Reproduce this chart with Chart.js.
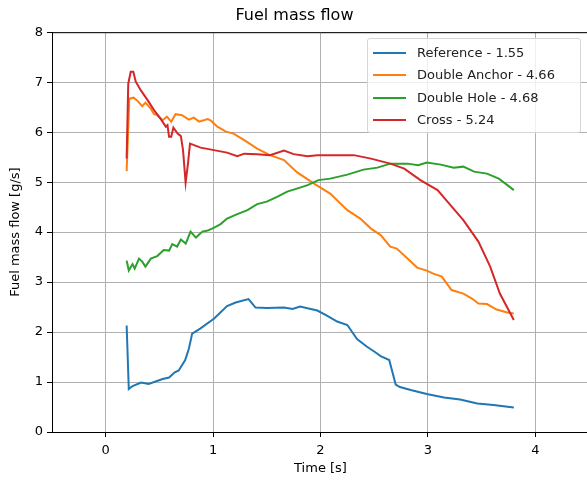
<!DOCTYPE html>
<html>
<head>
<meta charset="utf-8">
<script src="https://cdn.jsdelivr.net/npm/chart.js@4"></script>
<style>
  html, body { margin: 0; padding: 0; background: #fff; overflow: hidden; }
  #wrap { position: relative; width: 587px; height: 481px; overflow: hidden; }
  #legend {
    position: absolute; left: 367px; top: 38px; width: 212px; height: 93px;
    background: rgba(255, 255, 255, 0.8); border: 1px solid #d6d6d6; border-radius: 3px;
    font-family: "DejaVu Sans", sans-serif; font-size: 13px; color: #222;
  }
  .entry { position: absolute; left: 5px; height: 20px; line-height: 20px; white-space: nowrap; }
  .swatch { position: absolute; left: 0; top: 9px; width: 33px; height: 2px; }
  .entry span.txt { position: absolute; left: 44px; top: 0; }
</style>
</head>
<body>
<div id="wrap">
  <canvas id="flowChart" width="600" height="481"></canvas>
  <div id="legend"></div>
</div>
<script>
// series labels and colours
const seriesNames = ['Reference - 1.55', 'Double Anchor - 4.66', 'Double Hole - 4.68', 'Cross - 5.24'];
const seriesColors = ['#1f77b4', '#ff7f0e', '#2ca02c', '#d62728'];

// axis ticks
const xTicks = [0, 1, 2, 3, 4];
const yTicks = [0, 1, 2, 3, 4, 5, 6, 7, 8];

// Reference
const refTime = [0.195, 0.215, 0.25, 0.33, 0.40, 0.53, 0.59, 0.64, 0.68, 0.74, 0.775, 0.805, 0.88, 1.01, 1.13, 1.21, 1.33, 1.395, 1.50, 1.66, 1.74, 1.81, 1.97, 2.06, 2.155, 2.25, 2.34, 2.43, 2.50, 2.56, 2.64, 2.70, 2.74, 2.84, 2.99, 3.15, 3.30, 3.46, 3.61, 3.80];
const refFlow = [2.13, 0.86, 0.92, 0.99, 0.96, 1.06, 1.09, 1.19, 1.23, 1.44, 1.67, 1.97, 2.07, 2.27, 2.52, 2.59, 2.66, 2.49, 2.48, 2.49, 2.46, 2.51, 2.43, 2.33, 2.21, 2.14, 1.86, 1.71, 1.61, 1.52, 1.44, 0.95, 0.90, 0.84, 0.76, 0.69, 0.65, 0.57, 0.54, 0.49];

// Double Anchor
const anchorTime = [0.195, 0.22, 0.26, 0.29, 0.34, 0.37, 0.42, 0.45, 0.48, 0.53, 0.57, 0.61, 0.65, 0.71, 0.775, 0.82, 0.87, 0.95, 0.98, 1.04, 1.12, 1.19, 1.29, 1.41, 1.53, 1.66, 1.78, 1.94, 2.09, 2.25, 2.37, 2.47, 2.56, 2.65, 2.71, 2.81, 2.90, 2.99, 3.05, 3.13, 3.22, 3.33, 3.41, 3.47, 3.55, 3.64, 3.74, 3.80];
const anchorFlow = [5.22, 6.67, 6.69, 6.64, 6.52, 6.59, 6.47, 6.36, 6.34, 6.24, 6.31, 6.21, 6.36, 6.34, 6.25, 6.29, 6.21, 6.26, 6.23, 6.11, 6.01, 5.97, 5.84, 5.67, 5.54, 5.44, 5.20, 4.97, 4.77, 4.44, 4.27, 4.07, 3.94, 3.71, 3.67, 3.47, 3.29, 3.23, 3.17, 3.11, 2.84, 2.77, 2.67, 2.57, 2.56, 2.45, 2.39, 2.37];

// Double Hole
const holeTime = [0.195, 0.215, 0.25, 0.27, 0.31, 0.34, 0.37, 0.42, 0.48, 0.54, 0.59, 0.62, 0.665, 0.70, 0.745, 0.79, 0.84, 0.90, 0.95, 1.01, 1.07, 1.13, 1.225, 1.32, 1.41, 1.50, 1.60, 1.69, 1.78, 1.88, 1.98, 2.09, 2.19, 2.25, 2.40, 2.53, 2.65, 2.81, 2.91, 2.99, 3.12, 3.24, 3.33, 3.43, 3.55, 3.66, 3.74, 3.80];
const holeFlow = [3.43, 3.23, 3.36, 3.27, 3.47, 3.41, 3.31, 3.47, 3.52, 3.64, 3.63, 3.76, 3.71, 3.85, 3.77, 4.01, 3.89, 4.01, 4.03, 4.09, 4.16, 4.27, 4.36, 4.44, 4.56, 4.61, 4.71, 4.81, 4.87, 4.94, 5.04, 5.07, 5.12, 5.15, 5.25, 5.29, 5.37, 5.37, 5.34, 5.39, 5.35, 5.29, 5.31, 5.21, 5.17, 5.07, 4.94, 4.84];

// Cross
const crossTime = [0.195, 0.21, 0.233, 0.257, 0.28, 0.326, 0.39, 0.45, 0.51, 0.56, 0.575, 0.59, 0.61, 0.63, 0.67, 0.70, 0.72, 0.744, 0.766, 0.785, 0.884, 1.007, 1.13, 1.225, 1.29, 1.41, 1.53, 1.66, 1.75, 1.88, 1.97, 2.09, 2.31, 2.47, 2.65, 2.78, 2.93, 3.09, 3.21, 3.33, 3.47, 3.58, 3.67, 3.80];
const crossFlow = [5.47, 6.97, 7.21, 7.21, 7.01, 6.84, 6.64, 6.44, 6.27, 6.11, 6.14, 5.91, 5.91, 6.09, 5.97, 5.92, 5.64, 4.99, 5.37, 5.77, 5.69, 5.64, 5.59, 5.52, 5.57, 5.56, 5.54, 5.63, 5.56, 5.52, 5.54, 5.54, 5.54, 5.47, 5.37, 5.27, 5.04, 4.84, 4.54, 4.24, 3.81, 3.31, 2.77, 2.24];

const seriesTime = [refTime, anchorTime, holeTime, crossTime];
const seriesFlow = [refFlow, anchorFlow, holeFlow, crossFlow];

const FONT = '"DejaVu Sans", sans-serif';

// top spine (right spine is off screen in the reference)
const frame = {
  id: 'frame',
  afterDraw(chart) {
    const { ctx, chartArea } = chart;
    ctx.save();
    ctx.strokeStyle = '#000';
    ctx.lineWidth = 1;
    ctx.beginPath();
    ctx.moveTo(chartArea.left, chartArea.top + 0.5);
    ctx.lineTo(chartArea.right, chartArea.top + 0.5);
    ctx.stroke();
    ctx.restore();
  }
};

const datasets = seriesNames.map((name, i) => ({
  label: name,
  data: seriesTime[i].map((t, k) => ({ x: t, y: seriesFlow[i][k] })),
  borderColor: seriesColors[i],
  backgroundColor: seriesColors[i],
  borderWidth: 2,
  pointRadius: 0,
  tension: 0,
  order: seriesNames.length - i
}));

new Chart(document.getElementById('flowChart'), {
  type: 'line',
  data: { datasets },
  options: {
    responsive: false,
    animation: false,
    layout: { padding: { left: 0, right: 11, top: 0, bottom: 0 } },
    plugins: {
      legend: { display: false },
      tooltip: { enabled: false },
      title: {
        display: true,
        text: 'Fuel mass flow',
        color: '#000',
        font: { family: FONT, size: 16, weight: 'normal', lineHeight: 1.2 },
        padding: { top: 6, bottom: 7 }
      }
    },
    scales: {
      x: {
        type: 'linear',
        min: -0.5,
        max: 4.5,
        afterBuildTicks: axis => { axis.ticks = xTicks.map(v => ({ value: v })); },
        afterFit: scale => { scale.height = 49; },
        ticks: { color: '#000', font: { family: FONT, size: 13 }, padding: 6 },
        grid: { color: '#b0b0b0', lineWidth: 1, tickColor: '#000', tickLength: 5 },
        border: { display: true, color: '#000', width: 1 },
        title: {
          display: true, text: 'Time [s]', color: '#000',
          font: { family: FONT, size: 13 }, padding: { top: 0, bottom: 5 }
        }
      },
      y: {
        min: 0,
        max: 8,
        afterBuildTicks: axis => { axis.ticks = yTicks.map(v => ({ value: v })); },
        afterFit: scale => { scale.width = 52; },
        ticks: { color: '#000', font: { family: FONT, size: 13 }, padding: 4 },
        grid: { color: '#b0b0b0', lineWidth: 1, tickColor: '#000', tickLength: 5 },
        border: { display: true, color: '#000', width: 1 },
        title: {
          display: true, text: 'Fuel mass flow [g/s]', color: '#000',
          font: { family: FONT, size: 13 }, padding: { top: 8, bottom: 0 }
        }
      }
    }
  },
  plugins: [frame]
});

// legend inside the axes, upper right
const legend = document.getElementById('legend');
seriesNames.forEach((name, i) => {
  const row = document.createElement('div');
  row.className = 'entry';
  row.style.top = (4 + i * 22.3) + 'px';
  row.innerHTML = '<div class="swatch" style="background:' + seriesColors[i] + '"></div><span class="txt"></span>';
  row.querySelector('.txt').textContent = name;
  legend.appendChild(row);
});
</script>
</body>
</html>
